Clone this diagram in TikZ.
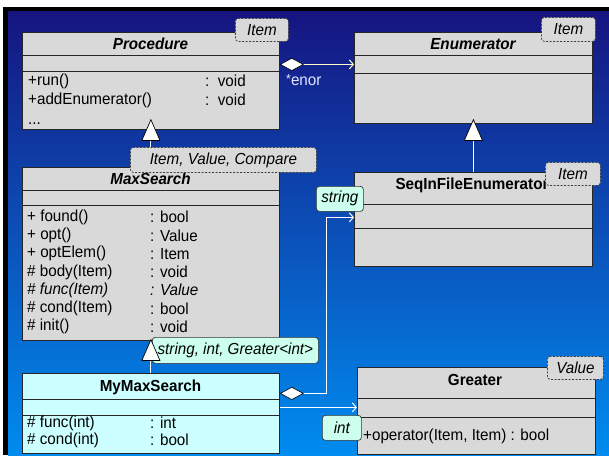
\documentclass[tikz,border=0pt]{standalone}
\usepackage{fontspec}
\setmainfont{Liberation Sans}[FakeStretch=0.95]
\usetikzlibrary{arrows.meta}
\definecolor{clsgray}{RGB}{217,217,217}
\definecolor{cyanfill}{RGB}{204,255,255}
\definecolor{aqua}{RGB}{204,255,238}
\definecolor{navy}{RGB}{22,20,128}
\definecolor{skyblue}{RGB}{0,140,240}
\definecolor{cream}{RGB}{255,255,204}
\definecolor{lbl}{RGB}{225,230,255}

\newcommand\umlfont{\fontsize{16}{18}\selectfont}

\tikzset{
  txt/.style={font=\umlfont, inner sep=0pt, anchor=west},
  ctitle/.style={font=\umlfont\bfseries, inner sep=0pt},
  atitle/.style={font=\umlfont\bfseries\itshape, inner sep=0pt},
  cls/.style={draw=black!85, fill=clsgray, line width=0.8pt, rectangle, inner sep=0pt, anchor=north west},
  sep/.style={draw=black!85, line width=0.8pt},
  tmpl/.style={draw=black!75, fill=clsgray, dash pattern=on 2pt off 1.5pt, line width=0.8pt,
    rounded corners=3pt, inner sep=0pt, anchor=north west, font=\umlfont\itshape},
  inst/.style={draw=black!80, fill=aqua, line width=0.7pt, rounded corners=3pt, inner sep=0pt,
    anchor=north west, font=\umlfont\itshape},
  gen/.style={white, line width=1pt,
    -{Triangle[fill=white, color=black, line width=0.7pt, length=22pt, width=19pt]}},
  aggr/.style={line width=1pt,
    {Diamond[fill=white, color=black, line width=0.6pt, length=24pt, width=13pt]}-{Straight Barb[length=4pt, width=9pt]}},
  assoc/.style={white, line width=1pt, -{Straight Barb[length=4pt, width=9pt]}}
}

\begin{document}
\begin{tikzpicture}[x=1pt, y=-1pt]
\useasboundingbox (0,0) rectangle (609,459);

% slide background
\fill[black] (3,7) rectangle (609,455);
\shade[top color=navy, bottom color=skyblue] (8,11) rectangle (609,455);

% ---- Procedure ----
\node[cls, minimum width=257pt, minimum height=97pt] (proc) at (22,32) {};
\draw[sep] ([yshift=-23pt]proc.north west) -- ([yshift=-23pt]proc.north east);
\draw[sep] ([yshift=-39pt]proc.north west) -- ([yshift=-39pt]proc.north east);
\node[atitle] (procT) at (150.5,44) {Procedure};
\node[txt] (procO1) at (28,81) {+run()};
\node[txt] (procO1t) at (205,81) {:\ \ void};
\node[txt] (procO2) at (28,100) {+addEnumerator()};
\node[txt] (procO2t) at (205,100) {:\ \ void};
\node[txt, anchor=base west] (procO3) at (28,124) {...};

% ---- Enumerator ----
\node[cls, minimum width=238pt, minimum height=91pt] (enum) at (354,32) {};
\draw[sep] ([yshift=-23pt]enum.north west) -- ([yshift=-23pt]enum.north east);
\draw[sep] ([yshift=-41pt]enum.north west) -- ([yshift=-41pt]enum.north east);
\node[atitle] (enumT) at (473,44) {Enumerator};

% ---- MaxSearch ----
\node[cls, minimum width=257pt, minimum height=173pt] (maxs) at (22,167) {};
\draw[sep] ([yshift=-23pt]maxs.north west) -- ([yshift=-23pt]maxs.north east);
\draw[sep] ([yshift=-38pt]maxs.north west) -- ([yshift=-38pt]maxs.north east);
\node[atitle] (maxsT) at (150.5,179) {MaxSearch};
\node[txt] (m1) at (27,217) {+ found()};       \node[txt] (m1t) at (150,217) {: bool};
\node[txt] (m2) at (27,235.3) {+ opt()};       \node[txt] (m2t) at (150,235.3) {: Value};
\node[txt] (m3) at (27,253.6) {+ optElem()};   \node[txt] (m3t) at (150,253.6) {: Item};
\node[txt] (m4) at (27,271.9) {\# body(Item)}; \node[txt] (m4t) at (150,271.9) {: void};
\node[txt, font=\umlfont\itshape] (m5) at (27,290.2) {\# func(Item)};
\node[txt, font=\umlfont\itshape] (m5t) at (150,290.2) {: Value};
\node[txt] (m6) at (27,308.5) {\# cond(Item)}; \node[txt] (m6t) at (150,308.5) {: bool};
\node[txt] (m7) at (27,326.8) {\# init()};     \node[txt] (m7t) at (150,326.8) {: void};

% ---- SeqInFileEnumerator ----
\node[cls, minimum width=238pt, minimum height=94pt] (seq) at (354,172) {};
\draw[sep] ([yshift=-32pt]seq.north west) -- ([yshift=-32pt]seq.north east);
\draw[sep] ([yshift=-56pt]seq.north west) -- ([yshift=-56pt]seq.north east);
\node[ctitle] (seqT) at (472,185) {SeqInFileEnumerator};

% ---- Greater ----
\node[cls, minimum width=238pt, minimum height=87pt] (greater) at (357,367) {};
\draw[sep] ([yshift=-31pt]greater.north west) -- ([yshift=-31pt]greater.north east);
\draw[sep] ([yshift=-50pt]greater.north west) -- ([yshift=-50pt]greater.north east);
\node[ctitle] (greaterT) at (475,380) {Greater};
\node[txt] (g1) at (363,436) {+operator(Item, Item) : bool};

% ---- MyMaxSearch ----
\node[cls, fill=cyanfill, minimum width=257pt, minimum height=80pt] (mymax) at (22,373) {};
\draw[sep] ([yshift=-26pt]mymax.north west) -- ([yshift=-26pt]mymax.north east);
\draw[sep] ([yshift=-42pt]mymax.north west) -- ([yshift=-42pt]mymax.north east);
\node[ctitle] (mymaxT) at (150.5,387) {MyMaxSearch};
\node[txt] (y1) at (27,423) {\# func(int)};  \node[txt] (y1t) at (150,423) {: int};
\node[txt] (y2) at (27,440) {\# cond(int)};  \node[txt] (y2t) at (150,440) {: bool};

% binding of MyMaxSearch
\node[inst, minimum width=166pt, minimum height=26pt] (bindMy) at (152,337) {string, int, Greater<int>};

% ---- connectors ----
\coordinate (agg1) at ([yshift=16.5pt]proc.east);
\draw[aggr, cream] (agg1) -- (agg1 -| enum.west);
\node[txt, text=lbl] (enorL) at (286,80) {\raisebox{1.5pt}{\fontsize{13}{13}\selectfont *}enor};

\draw[gen] (seq.north) -- ([yshift=5pt]enum.south);
\draw[gen] (maxs.north) -- ([yshift=11pt]proc.south);
\draw[gen] (mymax.north) -- ([yshift=2pt]maxs.south);

\coordinate (agg2) at ([yshift=20pt]mymax.east);
\draw[aggr, white] (agg2) -- ++(47,0) |- ([yshift=2pt]seq.west);

\coordinate (as1) at ([yshift=6pt]mymax.east);
\draw[assoc] (as1) -- (as1 -| greater.west);

% ---- template parameters and bindings ----
\node[tmpl, minimum width=53pt, minimum height=23pt] (tpProc) at (235,18) {Item};
\node[tmpl, minimum width=54pt, minimum height=24pt] (tpEnum) at (541,17) {Item};
\node[tmpl, minimum width=186pt, minimum height=25pt] (tpMax) at (130,147) {Item, Value, Compare};
\node[tmpl, minimum width=55pt, minimum height=23pt] (tpSeq) at (545,162) {Item};
\node[tmpl, minimum width=56pt, minimum height=23pt] (tpGr) at (547,356) {Value};
\node[inst, minimum width=47pt, minimum height=25pt] (bindSeq) at (316,186) {string};
\node[inst, minimum width=39pt, minimum height=25pt] (bindGr) at (322,415) {int};

\end{tikzpicture}
\end{document}
